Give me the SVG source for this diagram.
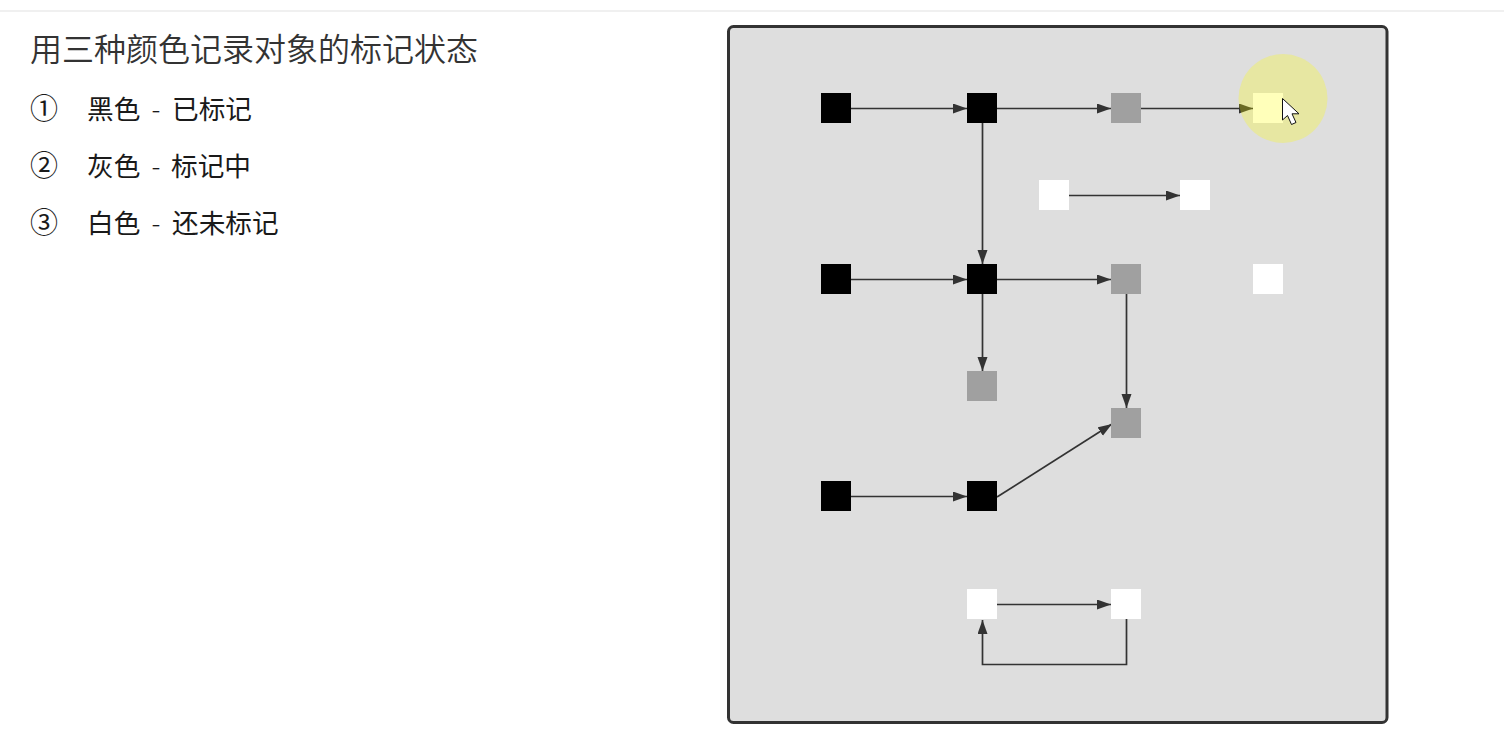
<svg xmlns="http://www.w3.org/2000/svg" width="1504" height="737" viewBox="0 0 1504 737">
<style>
text{font-family:"Noto Sans CJK SC","Noto Sans",sans-serif;fill:#1a1a1a}
.t{font-size:32px;font-weight:350;fill:#333}
.i{font-size:26.67px;font-weight:400}
.d{font-size:28px;font-weight:400}
.h{font-weight:300}
.b{fill:#000}.g{fill:#a0a0a0}.w{fill:#fff}
.c{fill:none;stroke:#333;stroke-width:1.7;marker-end:url(#a)}
</style>
<defs>
<marker id="a" markerUnits="userSpaceOnUse" markerWidth="15" markerHeight="11" refX="14" refY="5" orient="auto"><path d="M0 0L14 5L0 10Z" fill="#333"/></marker>
</defs>
<rect width="1504" height="737" fill="#fff"/>
<rect x="0" y="10" width="1504" height="2" fill="#f0f0f0"/>
<g id="text">
<text class="t" x="30" y="61">用三种颜色记录对象的标记状态</text>
<text class="d" x="30" y="119">①</text><text class="i" x="87" y="119">黑色<tspan class="h" x="145.500"> - </tspan><tspan x="172">已标记</tspan></text>
<text class="d" x="30" y="176">②</text><text class="i" x="87" y="176">灰色<tspan class="h" x="145.500"> - </tspan><tspan x="171">标记中</tspan></text>
<text class="d" x="30" y="233">③</text><text class="i" x="87" y="233">白色<tspan class="h" x="145.500"> - </tspan><tspan x="172">还未标记</tspan></text>
</g>
<rect id="panel" x="728.500" y="26.500" width="658.500" height="696" rx="5" fill="#dedede" stroke="#333" stroke-width="3"/>
<g id="connectors">
<path class="c" d="M851 108.500H967"/>
<path class="c" d="M997 108.500H1111"/>
<path class="c" d="M1141 108.500H1253"/>
<path class="c" d="M982.500 123V264"/>
<path class="c" d="M1069 195.500H1180"/>
<path class="c" d="M851 279.500H967"/>
<path class="c" d="M997 279.500H1111"/>
<path class="c" d="M982.500 294V371"/>
<path class="c" d="M1126.500 294V408"/>
<path class="c" d="M851 496.500H967"/>
<path class="c" d="M997 497L1112 424"/>
<path class="c" d="M997 604.500H1111"/>
<path class="c" d="M1126.500 619V664.500H982.500V620"/>
</g>
<g id="n1"><rect class="b" x="821" y="93" width="30" height="30"/></g>
<g id="n2"><rect class="b" x="967" y="93" width="30" height="30"/></g>
<g id="n3"><rect class="g" x="1111" y="93" width="30" height="30"/></g>
<g id="n4"><rect class="w" x="1253" y="93" width="30" height="30"/></g>
<g id="n5"><rect class="w" x="1039" y="180" width="30" height="30"/></g>
<g id="n6"><rect class="w" x="1180" y="180" width="30" height="30"/></g>
<g id="n7"><rect class="b" x="821" y="264" width="30" height="30"/></g>
<g id="n8"><rect class="b" x="967" y="264" width="30" height="30"/></g>
<g id="n9"><rect class="g" x="1111" y="264" width="30" height="30"/></g>
<g id="n10"><rect class="w" x="1253" y="264" width="30" height="30"/></g>
<g id="n11"><rect class="g" x="967" y="371" width="30" height="30"/></g>
<g id="n12"><rect class="g" x="1111" y="408" width="30" height="30"/></g>
<g id="n13"><rect class="b" x="821" y="481" width="30" height="30"/></g>
<g id="n14"><rect class="b" x="967" y="481" width="30" height="30"/></g>
<g id="n15"><rect class="w" x="967" y="589" width="30" height="30"/></g>
<g id="n16"><rect class="w" x="1111" y="589" width="30" height="30"/></g>
<circle cx="1283" cy="98.500" r="44.500" fill="#ffff00" opacity=".27"/>
<path d="M1282.500 98.500V120L1287.500 115.500L1291.500 124.500L1296 122.500L1292 113.800H1299Z" fill="#fff" stroke="#111" stroke-width="1"/>
</svg>
